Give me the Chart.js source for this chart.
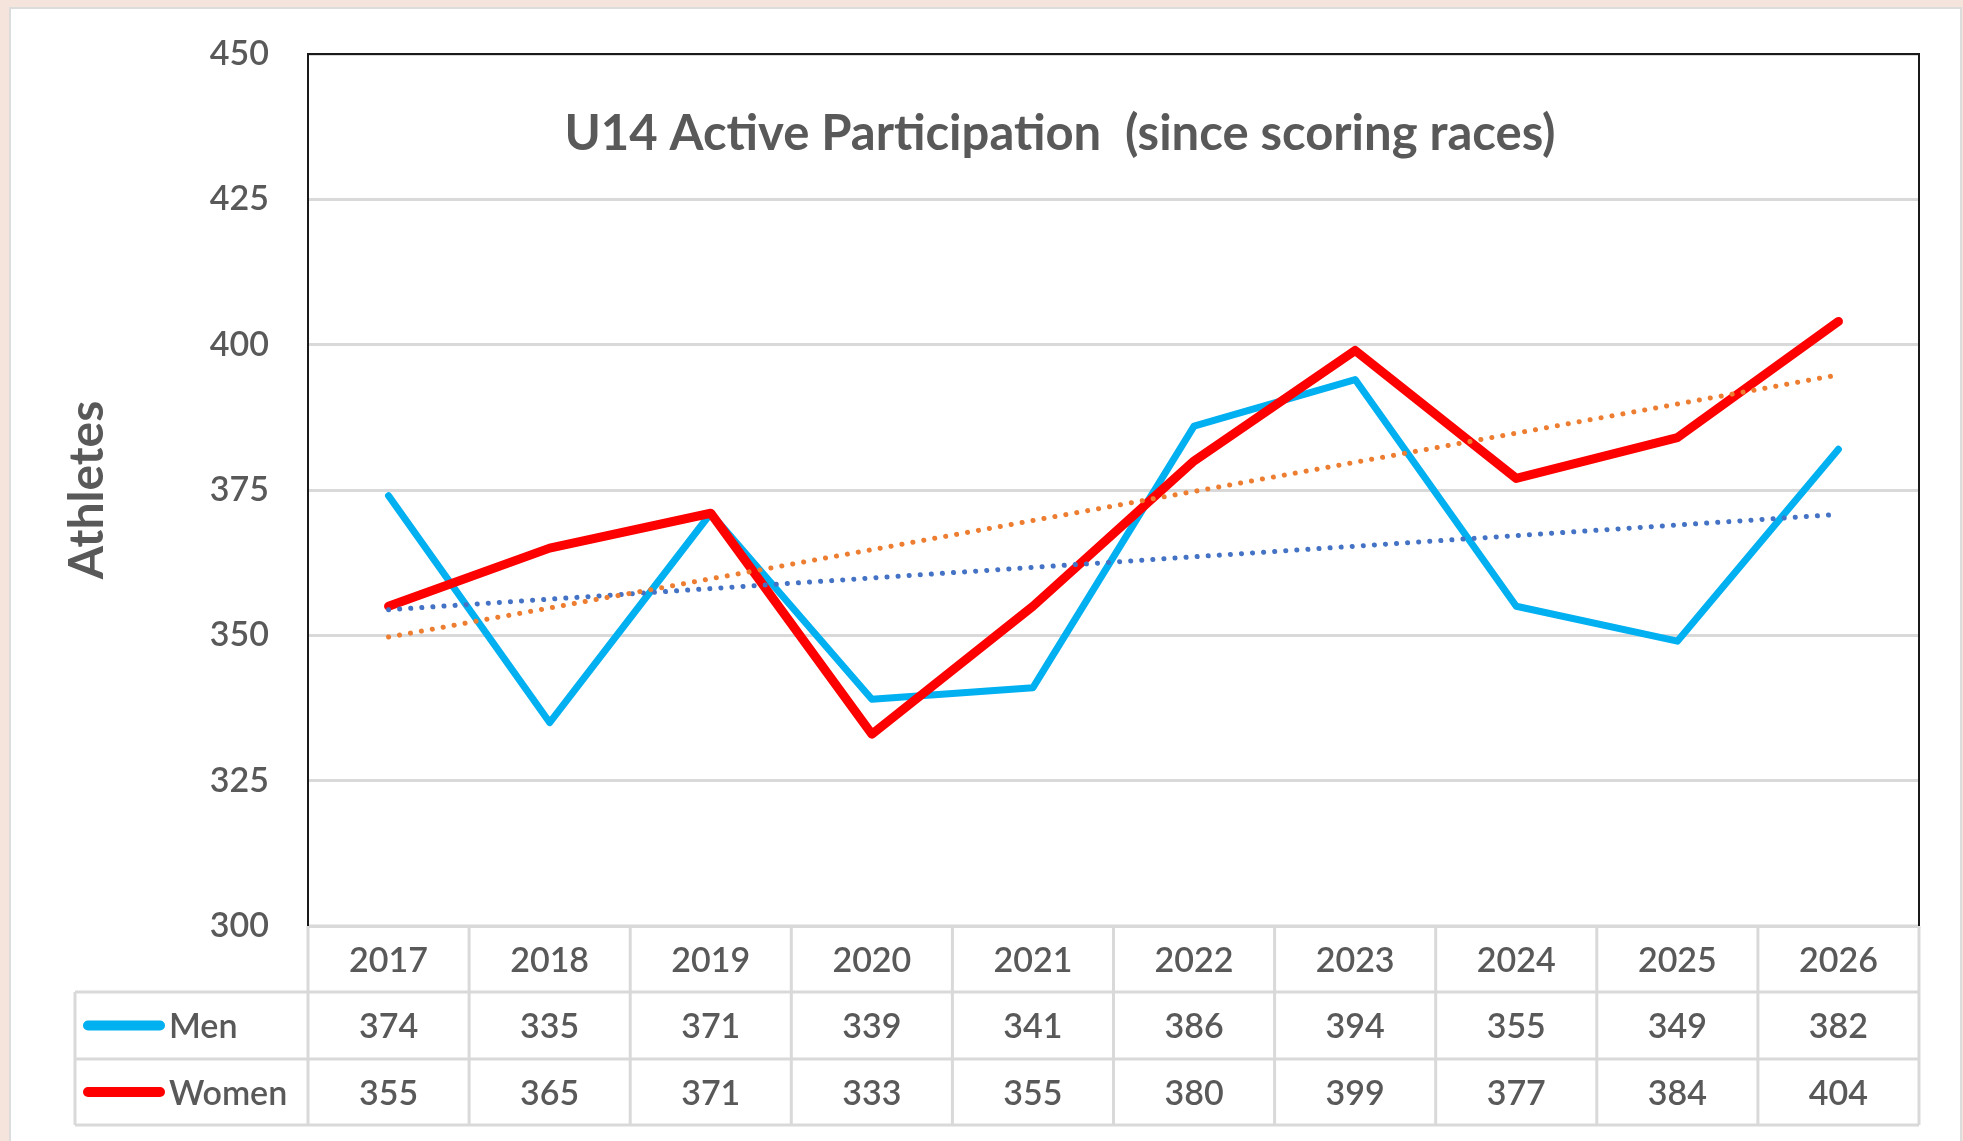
<!DOCTYPE html>
<html>
<head>
<meta charset="utf-8">
<title>U14 Active Participation</title>
<script src="https://cdn.jsdelivr.net/npm/chart.js@4.4.1/dist/chart.umd.min.js"></script>
<style>
  html, body { margin: 0; padding: 0; }
  body { width: 1963px; height: 1141px; background: #f4e4db; position: relative; overflow: hidden; }
  #card { position: absolute; left: 9px; top: 7px; width: 1949px; height: 1140px; background: #fff; border: 2px solid #dcdcdc; border-bottom: none; }
  #myChart { position: absolute; left: 0; top: 0; }
</style>
</head>
<body>
<div id="card"></div>
<canvas id="myChart" width="1963" height="1141"></canvas>
<script>
var years = ['2017', '2018', '2019', '2020', '2021', '2022', '2023', '2024', '2025', '2026'];
var men = [374, 335, 371, 339, 341, 386, 394, 355, 349, 382];
var women = [355, 365, 371, 333, 355, 380, 399, 377, 384, 404];
// trendline ends, straight line between them
var menTrend = [354.4, null, null, null, null, null, null, null, null, 370.8];
var womenTrend = [349.7, null, null, null, null, null, null, null, null, 394.8];
var yTicks = [300, 325, 350, 375, 400, 425, 450];

var seriesNames = ['Men', 'Women'];
var seriesColors = ['#00b0f0', '#ff0000'];
var textColor = '#595959';
var fontFamily = 'Lato, "Open Sans", sans-serif';

Chart.defaults.font.family = fontFamily;
Chart.defaults.color = textColor;

var tablePlugin = {
  id: 'dataTable',
  afterDraw: function(chart) {
    var ctx = chart.ctx;
    var a = chart.chartArea;
    var colW = (a.right - a.left) / years.length;
    var tableLeft = 75;
    var rows = [a.bottom, a.bottom + 66, a.bottom + 133, a.bottom + 199];
    ctx.save();

    // title inside plot area
    ctx.fillStyle = textColor;
    ctx.font = 'bold 49px ' + fontFamily;
    ctx.textAlign = 'center';
    ctx.textBaseline = 'middle';
    ctx.fillText('U14 Active Participation  (since scoring races)', 1060, 134);

    // table grid
    ctx.strokeStyle = '#d9d9d9';
    ctx.lineWidth = 3;
    ctx.beginPath();
    ctx.moveTo(a.left, rows[0]); ctx.lineTo(a.right, rows[0]);
    for (var r = 1; r < rows.length; r++) {
      ctx.moveTo(tableLeft, rows[r]); ctx.lineTo(a.right, rows[r]);
    }
    for (var c = 0; c <= years.length; c++) {
      var gx = a.left + c * colW;
      ctx.moveTo(gx, rows[0]); ctx.lineTo(gx, rows[3]);
    }
    ctx.moveTo(tableLeft, rows[1]); ctx.lineTo(tableLeft, rows[3]);
    ctx.stroke();

    // plot border
    ctx.strokeStyle = '#1a1a1a';
    ctx.lineWidth = 2;
    ctx.beginPath();
    ctx.moveTo(a.left, a.bottom);
    ctx.lineTo(a.left, a.top);
    ctx.lineTo(a.right, a.top);
    ctx.lineTo(a.right, a.bottom);
    ctx.stroke();

    // cell text
    ctx.font = '600 34px ' + fontFamily;
    ctx.fillStyle = textColor;
    ctx.textAlign = 'center';
    var x = chart.scales.x;
    var values = [men, women];
    for (var i = 0; i < years.length; i++) {
      var cx = x.getPixelForValue(i);
      ctx.fillText(years[i], cx, (rows[0] + rows[1]) / 2 + 2);
      ctx.fillText(values[0][i], cx, (rows[1] + rows[2]) / 2 + 2);
      ctx.fillText(values[1][i], cx, (rows[2] + rows[3]) / 2 + 2);
    }

    // legend keys in the row headers
    ctx.lineCap = 'round';
    ctx.lineWidth = 10;
    ctx.textAlign = 'left';
    for (var s = 0; s < seriesNames.length; s++) {
      var cy = (rows[s + 1] + rows[s + 2]) / 2;
      ctx.strokeStyle = seriesColors[s];
      ctx.beginPath();
      ctx.moveTo(88, cy); ctx.lineTo(160, cy);
      ctx.stroke();
      ctx.fillText(seriesNames[s], 169, cy + 2);
    }
    ctx.restore();
  }
};

var ctx = document.getElementById('myChart');
var myChart = new Chart(ctx, {
  type: 'line',
  data: {
    labels: years,
    datasets: [{
      label: 'Men',
      data: men,
      borderColor: seriesColors[0],
      borderWidth: 7,
      order: 3
    }, {
      label: 'Women',
      data: women,
      borderColor: seriesColors[1],
      borderWidth: 9,
      order: 2
    }, {
      label: 'Linear (Men)',
      data: menTrend,
      borderColor: '#4472c4',
      borderWidth: 5,
      borderDash: [0.1, 11],
      spanGaps: true,
      order: 1
    }, {
      label: 'Linear (Women)',
      data: womenTrend,
      borderColor: '#ed7d31',
      borderWidth: 5,
      borderDash: [0.1, 11],
      spanGaps: true,
      order: 0
    }]
  },
  options: {
    responsive: false,
    animation: false,
    devicePixelRatio: 1,
    elements: {
      point: { radius: 0, hoverRadius: 0 },
      line: { tension: 0, borderCapStyle: 'round', borderJoinStyle: 'round', fill: false }
    },
    layout: { padding: { top: 54, right: 44, bottom: 215, left: 0 } },
    plugins: {
      legend: { display: false },
      tooltip: { enabled: false }
    },
    scales: {
      x: {
        display: false,
        offset: true
      },
      y: {
        min: yTicks[0],
        max: yTicks[yTicks.length - 1],
        afterFit: function(scale) {
          scale.width = 308;
          scale.paddingTop = 0;
          scale.paddingBottom = 0;
        },
        ticks: {
          stepSize: 25,
          padding: 39,
          color: textColor,
          font: { size: 34, weight: 600 }
        },
        grid: {
          color: '#d9d9d9',
          lineWidth: 3,
          drawTicks: false
        },
        border: { display: false },
        title: {
          display: true,
          text: 'Athletes',
          color: textColor,
          font: { size: 48, weight: 'bold' },
          padding: { top: 59, bottom: 0 }
        }
      }
    }
  },
  plugins: [tablePlugin]
});
</script>
</body>
</html>
